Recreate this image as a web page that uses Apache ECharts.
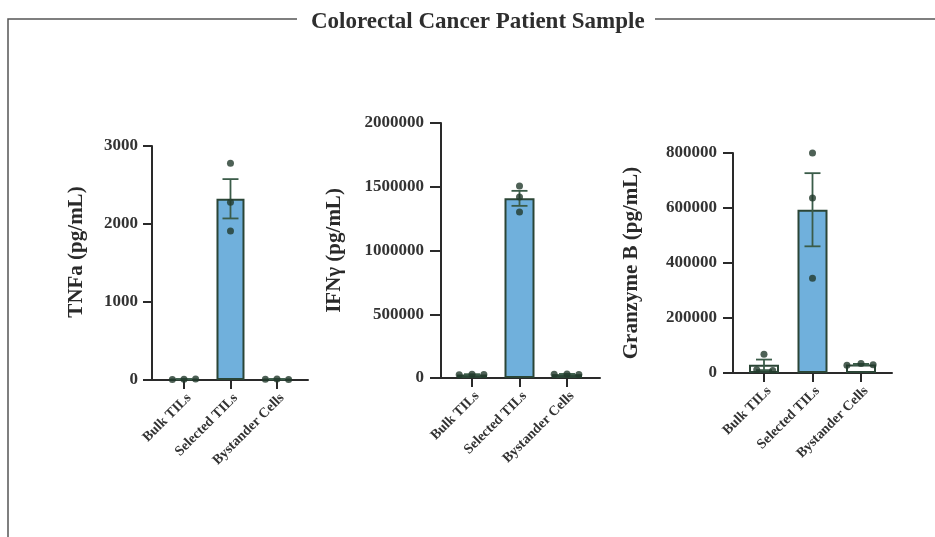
<!DOCTYPE html>
<html>
<head>
<meta charset="utf-8">
<script src="https://cdn.jsdelivr.net/npm/echarts@6/dist/echarts.min.js"></script>
<style>html,body{margin:0;padding:0;background:#fff}#c{width:935px;height:537px}</style>
</head>
<body>
<div id="c"></div>
<script>
// ---- data ----
const categories = ['Bulk TILs', 'Selected TILs', 'Bystander Cells'];
const tnfaValues = [[8, 10, 12], [2780, 2280, 1910], [10, 12, 8]];
const ifngValues = [[25000, 30000, 28000], [1505000, 1420000, 1302000], [30000, 32000, 28000]];
const gzmbValues = [[12000, 68000, 9000], [800000, 636000, 345000], [28000, 35000, 30000]];
const tnfaTicks = [0, 1000, 2000, 3000];
const ifngTicks = [0, 500000, 1000000, 1500000, 2000000];
const gzmbTicks = [0, 200000, 400000, 600000, 800000];
const yNames = ['TNFa (pg/mL)', 'IFN\u03b3 (pg/mL)', 'Granzyme B (pg/mL)'];
const title = 'Colorectal Cancer Patient Sample';

// ---- style / layout ----
const FONT = "'Liberation Serif', 'Times New Roman', serif";
const BLUE = '#70b0dc';
const DARK = '#22392c';
const EDGE = '#2b4536';
const AXIS = '#2a2a2a';
const panels = [
  { values: tnfaValues, ticks: tnfaTicks, name: yNames[0], left: 152, right: 308, top: 146, bottom: 380, min: -0.688, max: 2.667, barW: 28, gap: 65, namePad: [0, 0, 0, 22],
    tickLen: 9, labMargin: 14, jitter: [[-0.25, 0, 0.25], [0, 0, 0], [-0.25, 0, 0.25]] },
  { values: ifngValues, ticks: ifngTicks, name: yNames[1], left: 441, right: 600, top: 123, bottom: 378, min: -0.653, max: 2.695, barW: 30, gap: 96, namePad: [0, 0, 0, 0],
    tickLen: 11, labMargin: 17, jitter: [[-0.27, 0, 0.25], [0, 0, 0], [-0.27, 0, 0.25]] },
  { values: gzmbValues, ticks: gzmbTicks, name: yNames[2], left: 733, right: 892, top: 153, bottom: 373, min: -0.639, max: 2.639, barW: 30, gap: 91, namePad: [0, 0, 0, 0],
    tickLen: 10, labMargin: 16, jitter: [[-0.15, 0, 0.18], [0, 0, 0], [-0.29, 0, 0.25]] }
];

function mean(a) { return a.reduce((s, v) => s + v, 0) / a.length; }
function sem(a) {
  const m = mean(a);
  const v = a.reduce((s, x) => s + (x - m) * (x - m), 0) / (a.length - 1);
  return Math.sqrt(v) / Math.sqrt(a.length);
}

const grid = [], xAxis = [], yAxis = [], series = [];
panels.forEach((p, i) => {
  grid.push({ left: p.left, width: p.right - p.left, top: p.top, height: p.bottom - p.top, containLabel: false });
  xAxis.push({
    type: 'value', gridIndex: i, min: p.min, max: p.max,
    axisLine: { show: true, onZero: false, lineStyle: { color: AXIS, width: 2 } },
    axisTick: { show: true, customValues: [0, 1, 2], length: 9, lineStyle: { color: AXIS, width: 2 } },
    axisLabel: { show: true, customValues: [0, 1, 2], rotate: 45, margin: 11, verticalAlign: 'top',
      formatter: v => categories[Math.round(v)] || '',
      fontFamily: FONT, fontWeight: 'bold', fontSize: 14, color: '#333' },
    splitLine: { show: false }
  });
  const tk = p.ticks;
  yAxis.push({
    type: 'value', gridIndex: i, min: tk[0], max: tk[tk.length - 1], interval: tk[1] - tk[0],
    name: p.name, nameLocation: 'middle', nameGap: p.gap, nameRotate: 90,
    nameTextStyle: { fontFamily: FONT, fontWeight: 'bold', fontSize: 21, color: '#2a2a2a', padding: p.namePad },
    axisLine: { show: true, onZero: false, lineStyle: { color: AXIS, width: 2 } },
    axisTick: { show: true, length: p.tickLen, lineStyle: { color: AXIS, width: 2 } },
    axisLabel: { margin: p.labMargin, formatter: v => String(v), fontFamily: FONT, fontWeight: 'bold', fontSize: 17, color: '#333' },
    splitLine: { show: false }
  });
  const means = p.values.map(mean);
  const sems = p.values.map(sem);
  series.push({
    type: 'bar', xAxisIndex: i, yAxisIndex: i, barWidth: p.barW, z: 2,
    data: means.map((m, k) => ({ value: [k, m], itemStyle: { color: k === 1 ? BLUE : '#ffffff', borderColor: EDGE, borderWidth: 2 } }))
  });
  series.push({
    type: 'custom', xAxisIndex: i, yAxisIndex: i, z: 3,
    data: means.map((m, k) => [k, m - sems[k], m + sems[k]]),
    renderItem: function (params, api) {
      const x = api.value(0);
      const lo = api.coord([x, api.value(1)]);
      const hi = api.coord([x, api.value(2)]);
      const h = 8;
      const st = { stroke: '#3b5c49', lineWidth: 1.8 };
      return { type: 'group', children: [
        { type: 'line', shape: { x1: hi[0], y1: hi[1], x2: lo[0], y2: lo[1] }, style: st },
        { type: 'line', shape: { x1: hi[0] - h, y1: hi[1], x2: hi[0] + h, y2: hi[1] }, style: st },
        { type: 'line', shape: { x1: lo[0] - h, y1: lo[1], x2: lo[0] + h, y2: lo[1] }, style: st }
      ] };
    }
  });
  const pts = [];
  p.values.forEach((arr, k) => arr.forEach((v, j) => pts.push([k + p.jitter[k][j], v])));
  series.push({
    type: 'scatter', xAxisIndex: i, yAxisIndex: i, z: 4, symbolSize: 7,
    itemStyle: { color: DARK }, data: pts
  });
});

const chart = echarts.init(document.getElementById('c'), null, { renderer: 'canvas' });
chart.setOption({
  backgroundColor: '#ffffff',
  animation: false,
  title: { text: title, left: 306, top: 6, textStyle: { fontFamily: FONT, fontWeight: 'bold', fontSize: 23, color: '#2e2e2e' } },
  graphic: [
    { type: 'polyline', shape: { points: [[8, 537], [8, 19], [297, 19]] }, style: { stroke: '#555', lineWidth: 1.5, fill: null } },
    { type: 'line', shape: { x1: 655, y1: 19, x2: 935, y2: 19 }, style: { stroke: '#555', lineWidth: 1.5 } }
  ],
  grid: grid, xAxis: xAxis, yAxis: yAxis, series: series
});
</script>
</body>
</html>
